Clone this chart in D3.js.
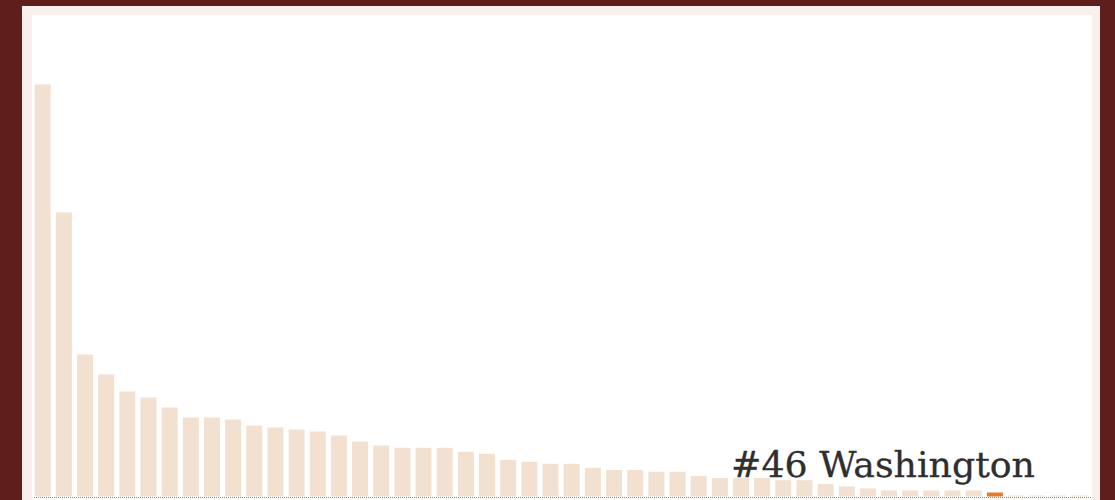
<!DOCTYPE html>
<html>
<head>
<meta charset="utf-8">
<script src="https://cdn.jsdelivr.net/npm/d3@7"></script>
<style>
  html, body { margin: 0; padding: 0; background: #5e1f1c; }
  svg { display: block; }
</style>
</head>
<body>
<svg id="chart" width="1115" height="500"></svg>
<script>
// Ranks 1..50 (Washington highlighted at #46)
const ranks = d3.range(1, 51);
const values = [
  412, 284, 142, 122, 105, 99, 89, 79, 79, 77,
  71, 69, 67, 65, 61, 55, 51, 48.7, 48.7, 48.7,
  44.7, 42.7, 36.7, 34.7, 32.7, 32.7, 28.7, 26.5, 26.5, 24.7,
  24.7, 20.5, 18.5, 18.5, 18.5, 16.3, 16.3, 12.5, 10, 8,
  6, 6, 6, 6, 6, 4, 1, 1, 1, 1
];
const highlightRank = 46;
const highlightName = "Washington";
const labelText = "#" + highlightRank + " " + highlightName;

const svg = d3.select("#chart");

// frame
svg.append("rect").attr("x", 22).attr("y", 6).attr("width", 1078).attr("height", 500).attr("fill", "#f8f0ec");
svg.append("rect").attr("x", 32).attr("y", 15).attr("width", 1060).attr("height", 490).attr("fill", "#ffffff");

const x = d3.scaleBand()
  .domain(ranks)
  .range([32.1, 1090.1])
  .paddingInner(0.244)
  .paddingOuter(0.122);

const y = d3.scaleLinear()
  .domain([0, 412])
  .range([496.5, 84.5]);

// dotted baseline
svg.append("line")
  .attr("x1", 34).attr("x2", 1091)
  .attr("y1", 497.5).attr("y2", 497.5)
  .attr("stroke", "#8a8a8a")
  .attr("stroke-width", 1)
  .attr("stroke-dasharray", "1,1");

svg.selectAll("rect.bar")
  .data(ranks)
  .join("rect")
  .attr("class", "bar")
  .attr("x", d => x(d))
  .attr("width", x.bandwidth())
  .attr("y", (d, i) => y(values[i]))
  .attr("height", (d, i) => y(0) - y(values[i]))
  .attr("fill", d => d === highlightRank ? "#e8792b" : "#f2e0d0");

svg.append("text")
  .attr("x", 1035)
  .attr("y", 477)
  .attr("text-anchor", "end")
  .attr("font-family", "'DejaVu Serif', serif")
  .attr("font-size", 36)
  .attr("fill", "#2f2f2f")
  .attr("stroke", "#2f2f2f")
  .attr("stroke-width", 0.3)
  .attr("textLength", 304)
  .attr("lengthAdjust", "spacingAndGlyphs")
  .text(labelText);
</script>
</body>
</html>
